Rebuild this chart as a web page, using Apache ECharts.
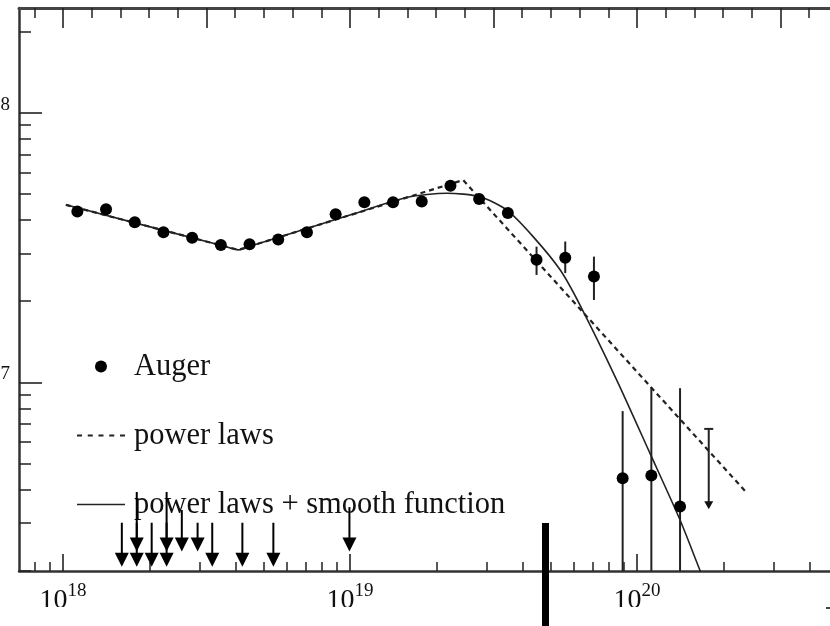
<!DOCTYPE html>
<html>
<head>
<meta charset="utf-8">
<script src="https://cdn.jsdelivr.net/npm/echarts@6/dist/echarts.min.js"></script>
<style>html,body{margin:0;padding:0;background:#fff}#c{width:830px;height:626px}</style>
</head>
<body>
<div id="c"></div>
<script>
// ---- data (log10 units) ----
const augerLogE = [18.05,18.15,18.25,18.35,18.45,18.55,18.65,18.75,18.85,18.95,19.05,19.15,19.25,19.35,19.45,19.55,19.65,19.75,19.85,19.95,20.05,20.15];
const augerLogF = [7.633,7.642,7.593,7.556,7.536,7.509,7.512,7.529,7.556,7.623,7.668,7.668,7.670,7.729,7.680,7.628,7.454,7.462,7.392,6.644,6.654,6.539];
const errLogE  = [19.65,19.75,19.85,19.95,20.05,20.15];
const errLow   = [7.398,7.405,7.305,6.30,6.30,6.30];
const errHigh  = [7.503,7.522,7.466,6.893,6.981,6.978];
const ulLogE   = [20.25];
const ulTop    = [6.827];
const ulTip    = [6.529];
const powerLawE = [18.01,18.611,19.394,20.379];
const powerLawF = [7.658,7.491,7.750,6.594];
const smoothE = [18.01,18.56,18.611,18.66,19.0,19.2,19.337,19.453,19.546,19.638,19.732,19.801,19.929,20.045,20.150,20.220,20.261];
const smoothF = [7.658,7.505,7.491,7.507,7.620,7.686,7.701,7.688,7.639,7.540,7.417,7.287,7.009,6.737,6.489,6.301,6.193];
const arrowLogE = [18.205,18.257,18.309,18.361,18.520,18.625,18.733,18.257,18.361,18.414,18.469,18.998];
const arrowTop  = [6.479,6.479,6.479,6.479,6.479,6.479,6.479,6.593,6.593,6.526,6.479,6.537];
const arrowTip  = [6.316,6.316,6.316,6.316,6.316,6.316,6.316,6.372,6.372,6.372,6.372,6.372];
const xMajorTicks = [18,19,20];
const xLabelBase = '10';
const yMajorTicks = [7,8];
const topMajorTicks = [18,18.5,19,19.5,20,20.5];
const legendNames = ['Auger','power laws','power laws + smooth function'];

const X_MIN = 17.8467, X_MAX = 20.6725, Y_MIN = 6.30, Y_MAX = 8.388;
const FONT = "'Liberation Serif','Times New Roman',serif";
const INK = '#111';

function logMinors(lo, hi) {
  const out = [];
  for (let n = Math.floor(lo); n <= Math.ceil(hi); n++) {
    for (let k = 2; k <= 9; k++) { const v = n + Math.log10(k); if (v > lo && v < hi) out.push(v); }
  }
  return out;
}
const xMinorTicks = logMinors(X_MIN, X_MAX);
const yMinorTicks = logMinors(Y_MIN, Y_MAX);
const topMinorTicks = [];
for (let i = 179; i <= 208; i++) { const v = i / 10; if (v > X_MIN && v < X_MAX && i % 5 !== 0) topMinorTicks.push(v); }

const zip2 = (a, b) => a.map((v, i) => [v, b[i]]);
const zip3 = (a, b, c) => a.map((v, i) => [v, b[i], c[i]]);

function xAxisBase(extra) {
  return Object.assign({
    type: 'value', min: X_MIN, max: X_MAX, gridIndex: 0,
    splitLine: { show: false },
    axisLine: { show: false, onZero: false },
    axisLabel: { show: false }
  }, extra);
}
function yAxisBase(extra) {
  return Object.assign({
    type: 'value', min: Y_MIN, max: Y_MAX, gridIndex: 0,
    splitLine: { show: false },
    axisLine: { show: false, onZero: false },
    axisLabel: { show: false }
  }, extra);
}

// dashed and solid line legend icons
const dashIcon = 'path://M0,0H5V2H0Z M10.75,0H15.75V2H10.75Z M21.5,0H26.5V2H21.5Z M32.25,0H37.25V2H32.25Z M43,0H48V2H43Z';
const solidIcon = 'path://M0,0H48V1.6H0Z';
const legendText = { fontSize: 30.5, fontFamily: FONT, color: INK };

const chart = echarts.init(document.getElementById('c'), null, { renderer: 'canvas' });

const option = {
  animation: false,
  backgroundColor: '#fff',
  grid: { left: 19, top: 8, right: 0, bottom: 55, containLabel: false, outerBoundsMode: 'none' },
  xAxis: [
    xAxisBase({
      position: 'bottom',
      axisLine: { show: true, onZero: false, lineStyle: { color: '#333', width: 2.5 } },
      axisTick: { show: true, inside: true, length: 17, customValues: xMajorTicks, lineStyle: { color: '#222', width: 1.6 } },
      axisLabel: {
        show: true, customValues: xMajorTicks, margin: 11,
        formatter: v => '{b|' + xLabelBase + '}{s|' + Math.round(v) + '}',
        rich: {
          b: { fontSize: 28, fontFamily: FONT, color: INK, verticalAlign: 'bottom' },
          s: { fontSize: 19, fontFamily: FONT, color: INK, verticalAlign: 'bottom', padding: [0, 0, 14, 0] }
        }
      }
    }),
    xAxisBase({
      position: 'bottom',
      axisTick: { show: true, inside: true, length: 9, customValues: xMinorTicks, lineStyle: { color: '#222', width: 1.5 } }
    }),
    xAxisBase({
      position: 'top',
      axisLine: { show: true, onZero: false, lineStyle: { color: '#444', width: 3 } },
      axisTick: { show: true, inside: true, length: 20, customValues: topMajorTicks, lineStyle: { color: '#222', width: 1.6 } }
    }),
    xAxisBase({
      position: 'top',
      axisTick: { show: true, inside: true, length: 10, customValues: topMinorTicks, lineStyle: { color: '#222', width: 1.5 } }
    })
  ],
  yAxis: [
    yAxisBase({
      position: 'left',
      axisLine: { show: true, onZero: false, lineStyle: { color: '#333', width: 2.5 } },
      axisTick: { show: true, inside: true, length: 23, customValues: yMajorTicks, lineStyle: { color: '#222', width: 1.6 } },
      axisLabel: {
        show: true, customValues: yMajorTicks, margin: 9,
        fontSize: 19, fontFamily: FONT, color: INK,
        verticalAlign: 'bottom', lineHeight: 16,
        formatter: v => String(Math.round(v))
      }
    }),
    yAxisBase({
      position: 'left',
      axisTick: { show: true, inside: true, length: 12, customValues: yMinorTicks, lineStyle: { color: '#222', width: 1.5 } }
    })
  ],
  legend: [
    { data: [{ name: legendNames[0], icon: 'circle' }], left: 95, top: 351, padding: 0, itemWidth: 12, itemHeight: 12, selectedMode: false,
      textStyle: Object.assign({ padding: [0, 0, 0, 22] }, legendText) },
    { data: [{ name: legendNames[1], icon: dashIcon }], left: 77, top: 420, padding: 0, itemWidth: 48, itemHeight: 2, selectedMode: false,
      textStyle: Object.assign({ padding: [0, 0, 0, 4] }, legendText) },
    { data: [{ name: legendNames[2], icon: solidIcon }], left: 77, top: 489, padding: 0, itemWidth: 48, itemHeight: 1.6, selectedMode: false,
      textStyle: Object.assign({ padding: [0, 0, 0, 4] }, legendText) }
  ],
  series: [
    {
      name: legendNames[1], type: 'line', xAxisIndex: 0, yAxisIndex: 0,
      data: zip2(powerLawE, powerLawF), symbol: 'none', showSymbol: false,
      lineStyle: { color: '#222', width: 2.2, type: [5, 4] }, itemStyle: { color: '#222' }, z: 3
    },
    {
      name: legendNames[2], type: 'line', xAxisIndex: 0, yAxisIndex: 0,
      data: zip2(smoothE, smoothF), symbol: 'none', showSymbol: false, smooth: 0.25,
      lineStyle: { color: '#222', width: 1.6 }, itemStyle: { color: '#222' }, z: 3
    },
    {
      name: 'errors', type: 'custom', xAxisIndex: 0, yAxisIndex: 0,
      data: zip3(errLogE, errLow, errHigh), encode: { x: 0, y: [1, 2] }, z: 4,
      renderItem: (params, api) => {
        const a = api.coord([api.value(0), api.value(2)]);
        const b = api.coord([api.value(0), api.value(1)]);
        return { type: 'line', shape: { x1: a[0], y1: a[1], x2: b[0], y2: b[1] }, style: { stroke: '#222', lineWidth: 2 } };
      }
    },
    {
      name: 'upper limit', type: 'custom', xAxisIndex: 0, yAxisIndex: 0,
      data: zip3(ulLogE, ulTop, ulTip), encode: { x: 0, y: [1, 2] }, z: 4,
      renderItem: (params, api) => {
        const a = api.coord([api.value(0), api.value(1)]);
        const b = api.coord([api.value(0), api.value(2)]);
        const h = 8, w = 4.5;
        return { type: 'group', children: [
          { type: 'line', shape: { x1: a[0] - 4.5, y1: a[1], x2: a[0] + 4.5, y2: a[1] }, style: { stroke: '#222', lineWidth: 2 } },
          { type: 'line', shape: { x1: a[0], y1: a[1], x2: b[0], y2: b[1] - h + 1 }, style: { stroke: '#222', lineWidth: 2 } },
          { type: 'polygon', shape: { points: [[b[0] - w, b[1] - h], [b[0] + w, b[1] - h], [b[0], b[1]]] }, style: { fill: '#111' } }
        ] };
      }
    },
    {
      name: 'limits', type: 'custom', xAxisIndex: 0, yAxisIndex: 0,
      data: zip3(arrowLogE, arrowTop, arrowTip), encode: { x: 0, y: [1, 2] }, z: 4,
      renderItem: (params, api) => {
        const a = api.coord([api.value(0), api.value(1)]);
        const b = api.coord([api.value(0), api.value(2)]);
        const h = 14, w = 7;
        return { type: 'group', children: [
          { type: 'line', shape: { x1: a[0], y1: a[1], x2: b[0], y2: b[1] - h + 1 }, style: { stroke: '#000', lineWidth: 2 } },
          { type: 'polygon', shape: { points: [[b[0] - w, b[1] - h], [b[0] + w, b[1] - h], [b[0], b[1]]] }, style: { fill: '#000' } }
        ] };
      }
    },
    {
      name: legendNames[0], type: 'scatter', xAxisIndex: 0, yAxisIndex: 0,
      data: zip2(augerLogE, augerLogF), symbol: 'circle', symbolSize: 12,
      itemStyle: { color: '#000', opacity: 1 }, z: 5
    }
  ],
  graphic: { elements: [
    { type: 'rect', z: 100, shape: { x: 0, y: 607, width: 830, height: 19 }, style: { fill: '#fff' } },
    { type: 'rect', z: 101, shape: { x: 542, y: 523, width: 7, height: 103 }, style: { fill: '#000' } },
    { type: 'rect', z: 101, shape: { x: 826, y: 607, width: 4, height: 2 }, style: { fill: '#444' } }
  ] }
};
chart.setOption(option);
</script>
</body>
</html>
